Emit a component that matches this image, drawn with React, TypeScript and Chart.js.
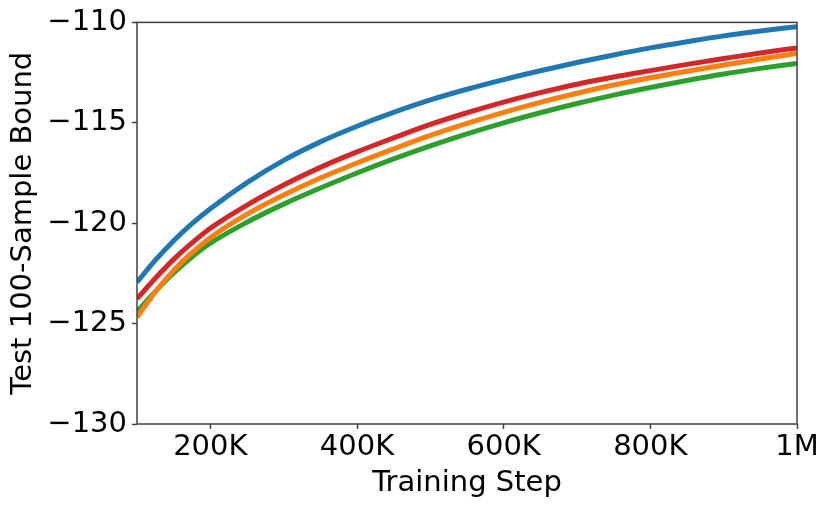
import React, { useRef, useEffect } from "react"
import { Chart, registerables } from "chart.js"

Chart.register(...registerables)

const steps = [
  100000, 125000, 150000, 175000, 200000, 250000, 300000, 350000, 400000,
  450000, 500000, 550000, 600000, 650000, 700000, 750000, 800000, 850000,
  900000, 950000, 1000000,
]

const blueRun = [
  -122.94, -121.84, -120.87, -120.02, -119.28, -117.98, -116.87, -115.95,
  -115.17, -114.48, -113.86, -113.33, -112.85, -112.41, -112.0, -111.62,
  -111.27, -110.96, -110.67, -110.43, -110.21,
]
const orangeRun = [
  -124.68, -123.42, -122.35, -121.47, -120.72, -119.55, -118.6, -117.75,
  -117.0, -116.3, -115.63, -115.03, -114.48, -113.98, -113.53, -113.12,
  -112.76, -112.43, -112.12, -111.82, -111.54,
]
const greenRun = [
  -124.4, -123.4, -122.48, -121.68, -121.0, -119.95, -119.05, -118.25,
  -117.5, -116.8, -116.15, -115.55, -115.0, -114.5, -114.04, -113.62,
  -113.24, -112.89, -112.57, -112.29, -112.04,
]
const redRun = [
  -123.76, -122.74, -121.8, -120.98, -120.25, -119.1, -118.1, -117.22,
  -116.45, -115.75, -115.08, -114.5, -113.97, -113.5, -113.08, -112.72,
  -112.4, -112.09, -111.8, -111.52, -111.27,
]

const xTicks = [200000, 400000, 600000, 800000, 1000000]
const xTickLabels = ["200K", "400K", "600K", "800K", "1M"]
const yTicks = [-130, -125, -120, -115, -110]
const yTickLabels = ["−130", "−125", "−120", "−115", "−110"]

const SPINE = "#404040"
const FONT = { family: "'DejaVu Sans', sans-serif", size: 29 }

const toPoints = (ys: number[]) => steps.map((x, i) => ({ x, y: ys[i] }))

// matplotlib-style box round the axes, drawn over the lines
const frame = {
  id: "frame",
  afterDatasetsDraw(chart: Chart) {
    const { ctx, chartArea } = chart
    ctx.save()
    ctx.strokeStyle = SPINE
    ctx.lineWidth = 1.5
    ctx.strokeRect(
      chartArea.left,
      chartArea.top,
      chartArea.right - chartArea.left,
      chartArea.bottom - chartArea.top
    )
    ctx.restore()
  },
}

const App: React.FC = () => {
  const chartRef = useRef<HTMLCanvasElement>(null)

  useEffect(() => {
    document.body.style.margin = "0"
    if (!chartRef.current) return
    const line = (label: string, color: string, ys: number[]) => ({
      label,
      data: toPoints(ys),
      borderColor: color,
      backgroundColor: color,
      borderWidth: 5,
      pointRadius: 0,
      fill: false,
      cubicInterpolationMode: "monotone" as const,
    })
    const chart = new Chart(chartRef.current.getContext("2d"), {
      type: "line",
      data: {
        datasets: [
          line("C0", "#1f77b4", blueRun),
          line("C1", "#ff7f0e", orangeRun),
          line("C2", "#2ca02c", greenRun),
          line("C3", "#d62728", redRun),
        ],
      },
      options: {
        animation: false,
        responsive: false,
        layout: { padding: { top: 22, right: 34, left: 0, bottom: 0 } },
        plugins: { legend: { display: false }, tooltip: { enabled: false } },
        scales: {
          x: {
            type: "linear",
            min: 100000,
            max: 1000000,
            afterBuildTicks: (scale) => {
              scale.ticks = xTicks.map((value) => ({ value }))
            },
            afterFit: (scale) => {
              scale.height = 85
            },
            ticks: {
              color: "#000",
              font: FONT,
              padding: 1,
              maxRotation: 0,
              autoSkip: false,
              callback: (_v, i) => xTickLabels[i],
            },
            grid: {
              drawOnChartArea: false,
              drawTicks: true,
              tickLength: 5,
              tickColor: SPINE,
              tickWidth: 1.5,
            },
            border: { display: false },
            title: {
              display: true,
              text: "Training Step",
              color: "#000",
              font: FONT,
              padding: { top: 0, bottom: 8 },
            },
          },
          y: {
            type: "linear",
            min: -130,
            max: -110,
            afterBuildTicks: (scale) => {
              scale.ticks = yTicks.map((value) => ({ value }))
            },
            afterFit: (scale) => {
              scale.width = 137
            },
            ticks: {
              color: "#000",
              font: FONT,
              padding: 5,
              autoSkip: false,
              callback: (_v, i) => yTickLabels[i],
            },
            grid: {
              drawOnChartArea: false,
              drawTicks: true,
              tickLength: 5,
              tickColor: SPINE,
              tickWidth: 1.5,
            },
            border: { display: false },
            title: {
              display: true,
              text: "Test 100-Sample Bound",
              color: "#000",
              font: FONT,
              padding: { top: 6, bottom: 0 },
            },
          },
        },
      },
      plugins: [frame],
    })
    return () => {
      chart.destroy()
    }
  }, [])

  return (
    <div style={{ width: 831, height: 509 }}>
      <canvas ref={chartRef} width={831} height={509} />
    </div>
  )
}

export default App
